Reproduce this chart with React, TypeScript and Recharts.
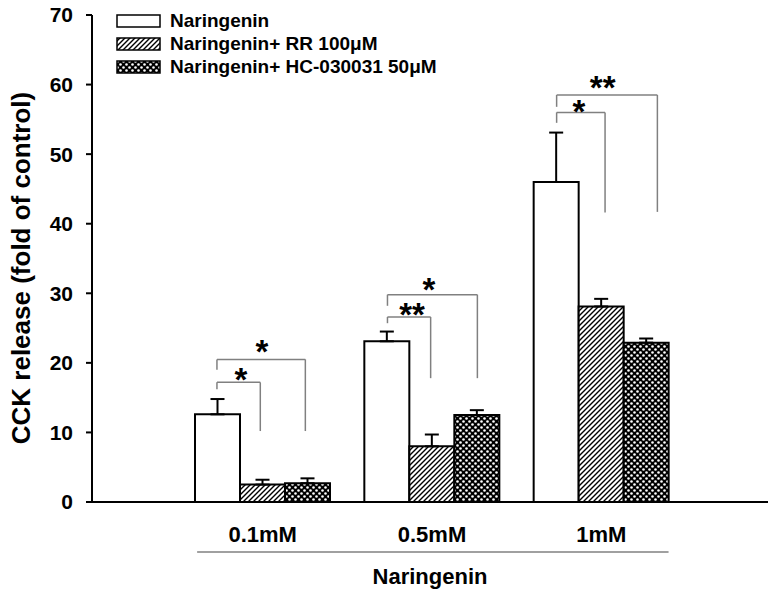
import React from "react";
import {
  BarChart,
  Bar,
  XAxis,
  YAxis,
  ErrorBar,
  Legend,
  ReferenceLine,
  ReferenceDot,
} from "recharts";

const FONT = "'Liberation Sans', Arial, Helvetica, sans-serif";

const doses = ["0.1mM", "0.5mM", "1mM"];
const naringenin = [12.6, 23.1, 46.0];
const naringeninErr = [2.2, 1.4, 7.1];
const rr = [2.5, 8.0, 28.1];
const rrErr = [0.7, 1.7, 1.1];
const hc = [2.7, 12.5, 22.9];
const hcErr = [0.7, 0.7, 0.6];
const yTicks = [0, 10, 20, 30, 40, 50, 60, 70];
const seriesNames = ["Naringenin", "Naringenin+ RR 100\u03bcM", "Naringenin+ HC-030031 50\u03bcM"];

// significance brackets, x in group units (1 = centre of first dose), y in data units
const brackets = [
  { x1: 0.73, x2: 0.986, top: 17.2, leftEnd: 16.2, rightEnd: 10.2 },
  { x1: 0.73, x2: 1.252, top: 20.5, leftEnd: 19.0, rightEnd: 10.2 },
  { x1: 1.737, x2: 1.992, top: 26.6, leftEnd: 25.7, rightEnd: 17.8 },
  { x1: 1.737, x2: 2.268, top: 29.8, leftEnd: 28.2, rightEnd: 17.8 },
  { x1: 2.736, x2: 3.022, top: 56.0, leftEnd: 54.5, rightEnd: 41.6 },
  { x1: 2.736, x2: 3.331, top: 58.5, leftEnd: 56.8, rightEnd: 41.7 },
];
const stars = [
  { x: 0.872, y: 18.6, text: "*" },
  { x: 0.996, y: 22.5, text: "*" },
  { x: 1.882, y: 27.9, text: "**" },
  { x: 1.982, y: 31.5, text: "*" },
  { x: 2.868, y: 57.0, text: "*" },
  { x: 3.008, y: 60.5, text: "**" },
];
const underline = { x1: 0.613, x2: 3.397, y: -7.2 };

const data = doses.map((d, i) => ({
  dose: d,
  pos: i + 1,
  n: naringenin[i],
  nErr: [0, naringeninErr[i]],
  rr: rr[i],
  rrErr: [0, rrErr[i]],
  hc: hc[i],
  hcErr: [0, hcErr[i]],
}));

const W = 775;
const H = 595;
const MARGIN = { top: 15, right: 7, bottom: 33, left: 0 };
const Y_W = 92;
const PAD_L = 86;
const PAD_R = 82;
const plotW = W - MARGIN.left - MARGIN.right - Y_W;
const band = (plotW - PAD_L - PAD_R) / doses.length;
const numLo = 1 - (PAD_L + band / 2) / band;
const numHi = doses.length + (PAD_R + band / 2) / band;

const fills = ["#ffffff", "url(#hatch)", "url(#dots)"];

function LegendBox() {
  return (
    <div>
      {seriesNames.map((name, i) => (
        <div key={name} style={{ display: "flex", alignItems: "center", height: 23 }}>
          <svg width={45} height={14}>
            <rect x={1} y={1} width={43} height={12} fill={fills[i]} stroke="#000" strokeWidth={1.5} />
          </svg>
          <span style={{ marginLeft: 9, fontSize: 19, fontWeight: "bold", fontFamily: FONT, lineHeight: "23px", color: "#000", whiteSpace: "nowrap" }}>
            {name}
          </span>
        </div>
      ))}
    </div>
  );
}

export default function App() {
  return (
    <div style={{ position: "absolute", left: 0, top: 0, background: "#fff" }}>
      <BarChart width={W} height={H} data={data} margin={MARGIN} barGap={0} barCategoryGap={0}>
        <defs>
          <pattern id="hatch" patternUnits="userSpaceOnUse" width={5} height={5}>
            <rect width={5} height={5} fill="#fff" />
            <path d="M-1,1 L1,-1 M0,5 L5,0 M4,6 L6,4" stroke="#000" strokeWidth={1.4} />
          </pattern>
          <pattern id="dots" patternUnits="userSpaceOnUse" width={6} height={6}>
            <rect width={6} height={6} fill="#000" />
            <circle cx={1.5} cy={1.5} r={1.3} fill="#fff" />
            <circle cx={4.5} cy={4.5} r={1.3} fill="#fff" />
          </pattern>
        </defs>
        <XAxis
          dataKey="dose"
          padding={{ left: PAD_L, right: PAD_R }}
          height={60}
          axisLine={{ stroke: "#000", strokeWidth: 2 }}
          tickLine={false}
          tickSize={0}
          tickMargin={24}
          tick={{ fontSize: 22, fontWeight: "bold", fill: "#000", fontFamily: FONT }}
          label={{
            content: (p: any) => {
              const vb = p.viewBox || {};
              return (
                <text x={vb.x + vb.width / 2} y={vb.y + 82} textAnchor="middle" fontSize={22} fontWeight="bold" fontFamily={FONT} fill="#000">
                  Naringenin
                </text>
              );
            },
          }}
        />
        <XAxis
          xAxisId="n"
          dataKey="pos"
          type="number"
          domain={[numLo, numHi]}
          allowDataOverflow
          allowDecimals
          hide
        />
        <YAxis
          width={Y_W}
          domain={[0, 70]}
          ticks={yTicks}
          interval={0}
          axisLine={{ stroke: "#000", strokeWidth: 2 }}
          tickLine={{ stroke: "#000", strokeWidth: 2 }}
          tickSize={6}
          tickMargin={13}
          tick={{ fontSize: 21, fontWeight: "bold", fill: "#000", fontFamily: FONT }}
          label={{
            content: () => (
              <text x={21} y={268} transform="rotate(-90, 21, 268)" textAnchor="middle" dominantBaseline="central" fontSize={26} fontWeight="bold" fontFamily={FONT} fill="#000">
                CCK release (fold of control)
              </text>
            ),
          }}
        />
        <Legend
          layout="horizontal"
          verticalAlign="middle"
          align="center"
          content={() => <LegendBox />}
          wrapperStyle={{ left: 116, top: 9, width: "auto", height: "auto" }}
        />
        <Bar dataKey="n" name={seriesNames[0]} barSize={45} fill={fills[0]} stroke="#000" strokeWidth={2} isAnimationActive={false}>
          <ErrorBar dataKey="nErr" direction="y" width={7} stroke="#000" strokeWidth={2} />
        </Bar>
        <Bar dataKey="rr" name={seriesNames[1]} barSize={45} fill={fills[1]} stroke="#000" strokeWidth={2} isAnimationActive={false}>
          <ErrorBar dataKey="rrErr" direction="y" width={7} stroke="#000" strokeWidth={2} />
        </Bar>
        <Bar dataKey="hc" name={seriesNames[2]} barSize={45} fill={fills[2]} stroke="#000" strokeWidth={2} isAnimationActive={false}>
          <ErrorBar dataKey="hcErr" direction="y" width={7} stroke="#000" strokeWidth={2} />
        </Bar>
        {brackets.map((b, i) => [
          <ReferenceLine key={`l${i}`} xAxisId="n" ifOverflow="visible" stroke="#808080" strokeWidth={1.5}
            segment={[{ x: b.x1, y: b.leftEnd }, { x: b.x1, y: b.top }]} />,
          <ReferenceLine key={`t${i}`} xAxisId="n" ifOverflow="visible" stroke="#808080" strokeWidth={1.5}
            segment={[{ x: b.x1, y: b.top }, { x: b.x2, y: b.top }]} />,
          <ReferenceLine key={`r${i}`} xAxisId="n" ifOverflow="visible" stroke="#808080" strokeWidth={1.5}
            segment={[{ x: b.x2, y: b.top }, { x: b.x2, y: b.rightEnd }]} />,
        ])}
        {stars.map((s, i) => (
          <ReferenceDot
            key={`s${i}`}
            xAxisId="n"
            x={s.x}
            y={s.y}
            r={0}
            ifOverflow="visible"
            shape={(p: any) => (
              <text x={p.cx} y={p.cy + 18} textAnchor="middle" fontSize={33} fontWeight="bold" fontFamily={FONT} fill="#000">
                {s.text}
              </text>
            )}
          />
        ))}
        <ReferenceLine xAxisId="n" ifOverflow="visible" stroke="#808080" strokeWidth={1.5}
          segment={[{ x: underline.x1, y: underline.y }, { x: underline.x2, y: underline.y }]} />
      </BarChart>
    </div>
  );
}
